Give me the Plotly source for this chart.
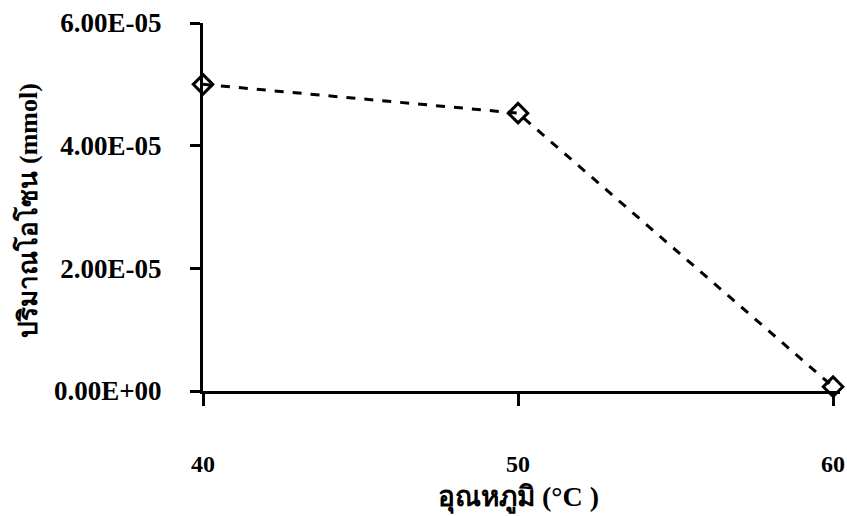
import plotly.graph_objects as go

# Ozone amount measured at each temperature
temperature = [40, 50, 60]
ozone_mmol = [5.00e-05, 4.53e-05, 0.07e-05]

y_ticks = [0, 2e-05, 4e-05, 6e-05]
y_tick_text = ["0.00E+00", "2.00E-05", "4.00E-05", "6.00E-05"]
x_ticks = [40, 50, 60]

FONT = "Liberation Serif, Times New Roman, serif"

fig = go.Figure()
fig.add_trace(go.Scatter(
    x=temperature,
    y=ozone_mmol,
    mode="lines+markers",
    line=dict(color="black", width=3, dash="dash"),
    marker=dict(symbol="diamond-open", size=15, color="black",
                line=dict(color="black", width=3)),
    cliponaxis=False,
    showlegend=False,
))

fig.update_layout(
    width=847,
    height=516,
    margin=dict(l=203, r=7, t=23, b=125),
    plot_bgcolor="white",
    paper_bgcolor="white",
    font=dict(family=FONT, color="black"),
    xaxis=dict(
        range=[40, 60.22],
        tickvals=x_ticks,
        ticktext=[str(v) for v in x_ticks],
        ticks="outside",
        ticklen=12,
        tickwidth=3,
        tickcolor="black",
        ticklabelstandoff=37,
        tickfont=dict(family=FONT, size=24, color="black", weight="bold"),
        showline=True,
        linecolor="black",
        linewidth=3,
        showgrid=False,
        zeroline=False,
        automargin=False,
    ),
    yaxis=dict(
        range=[0, 6e-05],
        tickvals=y_ticks,
        ticktext=y_tick_text,
        ticks="outside",
        ticklen=10,
        tickwidth=3,
        tickcolor="black",
        ticklabelstandoff=23,
        tickfont=dict(family=FONT, size=27, color="black", weight="bold"),
        showline=True,
        linecolor="black",
        linewidth=3,
        showgrid=False,
        zeroline=False,
        automargin=False,
    ),
    annotations=[
        dict(
            text="อุณหภูมิ (°C )",
            xref="x", yref="paper",
            x=50, y=-0.29,
            showarrow=False,
            font=dict(family=FONT, size=28, color="black", weight="bold"),
            xanchor="center", yanchor="middle",
        ),
        dict(
            text="ปริมาณโอโซน (mmol)",
            xref="paper", yref="paper",
            x=-0.275, y=0.49,
            textangle=-90,
            showarrow=False,
            font=dict(family=FONT, size=26, color="black", weight="bold"),
            xanchor="center", yanchor="middle",
        ),
    ],
)

# Extend the vertical axis a little below zero, like a downward tick at x=40
fig.add_shape(type="line", xref="x", yref="paper",
              x0=40, x1=40, y0=0, y1=-0.035,
              line=dict(color="black", width=3))

fig.write_html("out.html")
